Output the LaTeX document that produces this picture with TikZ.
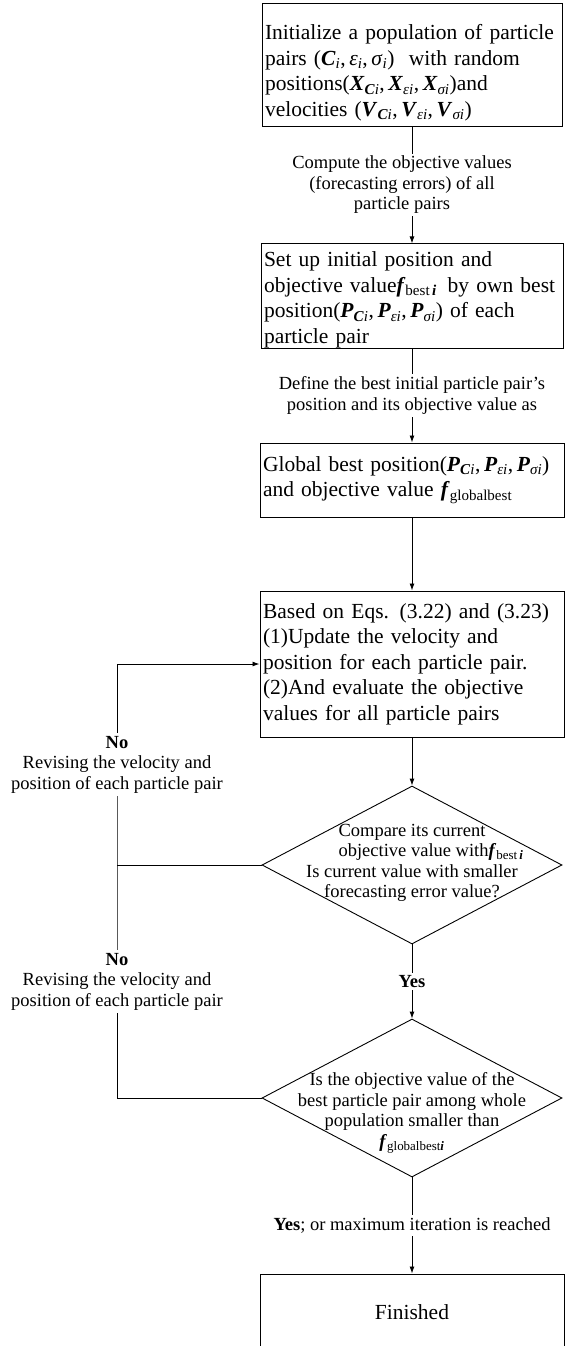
\documentclass[tikz,border=0pt]{standalone}
\usepackage{fontspec}
\setmainfont{Liberation Serif}
\usetikzlibrary{arrows.meta,shapes.geometric}
\newcommand\bi[1]{\textbf{\textit{#1}}}
\newcommand\sbs[1]{\textsubscript{#1}}
\newcommand\boxfont{\fontsize{21.5}{25.5}\selectfont}
\newcommand\notefont{\fontsize{18.5}{20.5}\selectfont}
\newcommand\oneline[1]{\mbox{#1}}

\begin{document}
\begin{tikzpicture}[x=1pt,y=-1pt,
  line width=0.9pt,
  flowbox/.style={draw, rectangle, line width=1pt, inner xsep=3pt, inner ysep=0pt,
    align=left, font=\boxfont},
  decision/.style={draw, diamond, line width=0.9pt, minimum width=300pt,
    minimum height=158pt, inner sep=0pt},
  dtext/.style={align=center, inner sep=0pt, font=\notefont},
  edgelabel/.style={font=\notefont, align=center, fill=white, inner sep=2.5pt},
  flow/.style={-{Latex[length=7pt,width=5pt]}}
]
\useasboundingbox (0,0) rectangle (570,1346);
\clip (0,0) rectangle (570,1346);

% process boxes
\node[flowbox, minimum width=300pt, minimum height=122pt, text width=294pt] (init) at (412,65)
  {\oneline{\rule{0pt}{31pt}Initialize a population of particle}\\
   \oneline{pairs (\bi{C}\sbs{\textit{i}},\,\textit{ε}\sbs{\textit{i}},\,\textit{σ}\sbs{\textit{i}})~ with random}\\
   \oneline{positions(\bi{X}\sbs{\bi{C}\textit{i}},\,\bi{X}\sbs{\textit{εi}},\,\bi{X}\sbs{\textit{σi}})and}\\
   \oneline{velocities (\bi{V}\sbs{\bi{C}\textit{i}},\,\bi{V}\sbs{\textit{εi}},\,\bi{V}\sbs{\textit{σi}})}};

\node[flowbox, minimum width=302pt, minimum height=98pt, text width=296pt] (own) at (412,296)
  {\oneline{\rule{0pt}{23pt}Set up initial position and}\\
   \oneline{objective value\bi{f}\sbs{best\,\bi{i}}\enspace by own best}\\
   \oneline{position(\bi{P}\sbs{\bi{C}\textit{i}},\,\bi{P}\sbs{\textit{εi}},\,\bi{P}\sbs{\textit{σi}}) of each}\\
   \oneline{particle pair}};

\node[flowbox, minimum width=304pt, minimum height=74pt, text width=298pt] (glob) at (412,480)
  {\oneline{Global best position(\bi{P}\sbs{\bi{C}\textit{i}},\,\bi{P}\sbs{\textit{εi}},\,\bi{P}\sbs{\textit{σi}})}\\
   \oneline{and objective value \bi{f}\sbs{globalbest}}};

\node[flowbox, minimum width=304pt, minimum height=146pt, text width=298pt] (upd) at (412,664)
  {\oneline{Based on Eqs. (3.22) and (3.23)}\\
   \oneline{(1)Update the velocity and}\\
   \oneline{position for each particle pair.}\\
   \oneline{(2)And evaluate the objective}\\
   \oneline{values for all particle pairs}};

% decisions
\node[decision, label={[dtext, yshift=2pt]center:{Compare its current\\
   \hspace*{38pt}objective value with\bi{f}\sbs{best\,\bi{i}}\\
   Is current value with smaller\\
   forecasting error value?}}] (cmp) at (412,865) {};

\node[decision, label={[dtext, yshift=-15pt]center:{Is the objective value of the\\
   best particle pair among whole\\
   population smaller than\\
   \bi{f}\sbs{globalbest\bi{i}}}}] (gcmp) at (412,1098) {};

% end box, open at the lower edge of the page
\node[flowbox, align=center, minimum width=304pt, minimum height=76pt] (fin) at (412,1312) {Finished};

% main flow
\draw[flow] (init) -- node[edgelabel, xshift=-10pt]{Compute the objective values\\(forecasting errors) of all\\particle pairs} (own);
\draw[flow] (own) -- node[edgelabel]{Define the best initial particle pair’s\\position and its objective value as} (glob);
\draw[flow] (glob) -- (upd);
\draw[flow] (upd) -- (cmp);
\draw[flow] (cmp) -- node[edgelabel]{\textbf{Yes}} (gcmp);
\draw[flow] (gcmp) -- node[edgelabel]{\textbf{Yes}; or maximum iteration is reached} (fin);

% feedback loop on the left
\coordinate (loopx) at (117,0);
\draw (cmp.west) -- (cmp.west -| loopx);
\draw[flow] (gcmp.west) -- (gcmp.west -| loopx)
  -- node[edgelabel]{\textbf{No}\\Revising the velocity and\\position of each particle pair} (cmp.west -| loopx)
  -- node[edgelabel]{\textbf{No}\\Revising the velocity and\\position of each particle pair} (upd.west -| loopx)
  -- (upd.west);
\end{tikzpicture}
\end{document}
